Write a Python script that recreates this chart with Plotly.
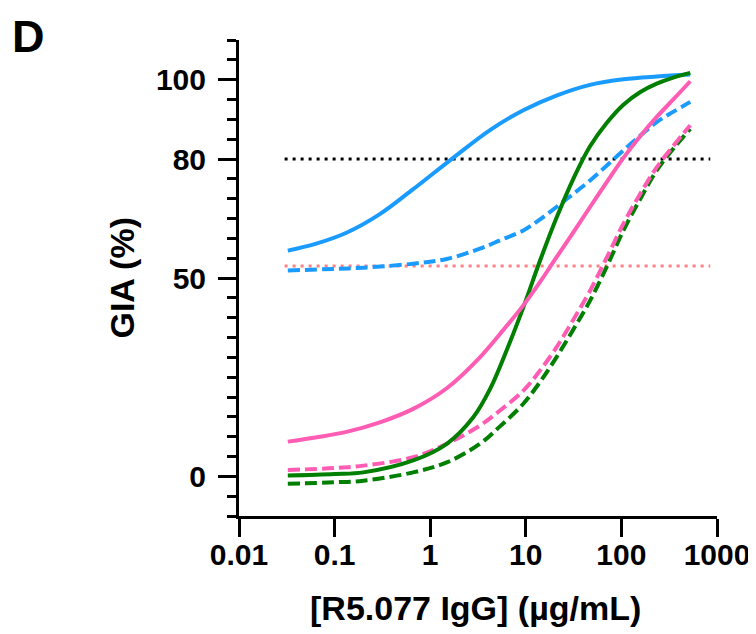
import plotly.graph_objects as go

# ---- data ----
x_ticks = [0.01, 0.1, 1, 10, 100, 1000]
x_tick_labels = ["0.01", "0.1", "1", "10", "100", "1000"]
y_ticks = [0, 50, 80, 100]
y_tick_labels = ["0", "50", "80", "100"]

blue_solid_x = [0.0324, 0.0631, 0.133, 0.297, 0.664, 1.74, 4.22, 9.42, 20.9, 47.0, 105, 234, 525]
blue_solid_y = [56.9, 58.6, 61.4, 66.1, 72.4, 80.3, 87.3, 92.3, 96.0, 98.7, 100.1, 100.8, 101.3]

blue_dash_x = [0.0324, 0.1, 0.2, 0.664, 1.49, 3.31, 5.37, 9.42, 14.1, 20.9, 31.4, 47.0, 70.8, 105, 158, 234, 355, 525]
blue_dash_y = [51.9, 52.3, 52.6, 53.6, 54.8, 57.4, 59.5, 62.0, 64.8, 67.9, 71.2, 74.6, 78.4, 82.2, 85.9, 89.3, 92.0, 94.4]

green_solid_x = [0.0324, 0.1, 0.2, 0.664, 1.49, 2.82, 4.22, 6.31, 9.42, 14.1, 20.9, 31.4, 47.0, 70.8, 105, 158, 234, 355, 525]
green_solid_y = [0.2, 0.6, 1.0, 4.0, 8.2, 14.9, 22.0, 31.8, 42.6, 54.4, 65.1, 75.0, 83.2, 89.2, 93.7, 96.9, 99.0, 100.6, 101.7]

pink_solid_x = [0.0324, 0.0631, 0.133, 0.297, 0.664, 1.49, 3.31, 5.37, 9.42, 14.1, 20.9, 31.4, 47.0, 70.8, 105, 158, 234, 355, 525]
pink_solid_y = [8.75, 9.8, 11.2, 13.6, 17.0, 22.2, 30.0, 35.9, 43.1, 49.0, 55.2, 61.5, 67.9, 74.3, 80.3, 85.8, 90.6, 95.2, 99.6]

pink_dash_x = [0.0324, 0.1, 0.2, 0.664, 1.49, 3.31, 5.37, 9.42, 14.1, 20.9, 31.4, 47.0, 70.8, 105, 158, 234, 355, 525]
pink_dash_y = [1.6, 2.1, 2.7, 4.8, 8.2, 12.8, 16.6, 21.6, 26.7, 32.5, 39.5, 46.8, 55.3, 63.7, 71.3, 77.9, 83.5, 88.5]

green_dash_x = [0.0324, 0.1, 0.2, 0.664, 1.49, 3.31, 5.37, 9.42, 14.1, 20.9, 31.4, 47.0, 70.8, 105, 158, 234, 355, 525]
green_dash_y = [-1.9, -1.5, -1.1, 1.0, 3.5, 8.2, 12.6, 18.3, 23.8, 30.0, 37.0, 44.3, 53.0, 62.0, 70.0, 77.1, 82.8, 87.6]

ref_x = [0.03, 850]
ref_80 = [80, 80]
ref_53 = [53, 53]

BLUE = "#1A9BFF"
GREEN = "#007F00"
PINK = "#FF5CB4"
SALMON = "#FF8080"

fig = go.Figure()

fig.add_trace(go.Scatter(x=ref_x, y=ref_80, mode="lines",
                         line=dict(color="black", width=3, dash="3px,5px")))
fig.add_trace(go.Scatter(x=ref_x, y=ref_53, mode="lines",
                         line=dict(color=SALMON, width=3, dash="3px,5px")))

series = [
    (blue_solid_x, blue_solid_y, BLUE, "solid"),
    (blue_dash_x, blue_dash_y, BLUE, "12px,5px"),
    (green_dash_x, green_dash_y, GREEN, "12px,5px"),
    (pink_dash_x, pink_dash_y, PINK, "12px,5px"),
    (green_solid_x, green_solid_y, GREEN, "solid"),
    (pink_solid_x, pink_solid_y, PINK, "solid"),
]
for xs, ys, col, dash in series:
    fig.add_trace(go.Scatter(x=xs, y=ys, mode="lines",
                             line=dict(color=col, width=4, dash=dash,
                                       shape="spline", smoothing=1.0)))

FONT = "Liberation Sans, Arial, sans-serif"

# page body has an 8px margin, so the figure is shifted left/up by 8px
fig.update_layout(
    width=756, height=634, autosize=False,
    margin=dict(l=231, r=47, t=32, b=126),
    paper_bgcolor="white", plot_bgcolor="white",
    showlegend=False,
    font=dict(family=FONT, color="black"),
    xaxis=dict(
        type="log", range=[-2, 3], automargin=False,
        tickmode="array", tickvals=x_ticks, ticktext=x_tick_labels,
        ticks="outside", ticklen=18, tickwidth=3, tickcolor="black",
        ticklabelstandoff=-8,
        showline=True, linewidth=3, linecolor="black",
        showgrid=False, zeroline=False,
        tickfont=dict(family=FONT, size=30, color="black", weight="bold"),
    ),
    yaxis=dict(
        range=[-10, 110], automargin=False,
        tickmode="array", tickvals=y_ticks, ticktext=y_tick_labels,
        ticks="outside", ticklen=18, tickwidth=3, tickcolor="black",
        ticklabelstandoff=6,
        showline=True, linewidth=3, linecolor="black",
        showgrid=False, zeroline=False,
        tickfont=dict(family=FONT, size=30, color="black", weight="bold"),
        minor=dict(tickmode="linear", tick0=0, dtick=5, ticks="outside",
                   ticklen=9, tickwidth=3, tickcolor="black", showgrid=False),
    ),
    annotations=[
        dict(text="<b>GIA (%)</b>", xref="paper", yref="paper",
             x=-0.2457, y=0.5, xanchor="center", yanchor="middle",
             textangle=-90, showarrow=False,
             font=dict(family=FONT, size=34, color="black")),
        dict(text="<b>[R5.077 IgG] (µg/mL)</b>", xref="paper", yref="paper",
             x=0.494, y=-0.193, xanchor="center", yanchor="middle",
             showarrow=False,
             font=dict(family=FONT, size=34, color="black")),
        dict(text="<b>D</b>", xref="paper", yref="paper",
             x=-0.478, y=1.064, xanchor="left", yanchor="top",
             showarrow=False, borderpad=0,
             font=dict(family=FONT, size=45, color="black")),
    ],
)

fig.write_html("out.html")
